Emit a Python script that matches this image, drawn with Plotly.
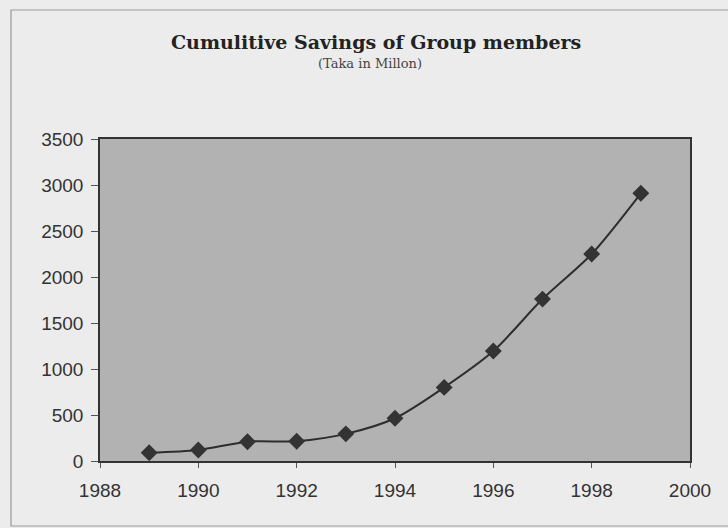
import plotly.graph_objects as go

years = [1989, 1990, 1991, 1992, 1993, 1994, 1995, 1996, 1997, 1998, 1999]
savings = [90, 120, 210, 215, 295, 465, 800, 1195, 1760, 2250, 2910]

title_text = "Cumulitive Savings of Group members"
subtitle_text = "(Taka in Millon)"
x_ticks = [1988, 1990, 1992, 1994, 1996, 1998, 2000]
y_ticks = [0, 500, 1000, 1500, 2000, 2500, 3000, 3500]

W, H = 728, 528
L, R, T, B = 100, 38, 139, 67
pw, ph = W - L - R, H - T - B

def px(x):
    return (x - L) / pw

def py(y):
    return (H - B - y) / ph

fig = go.Figure()
fig.add_trace(go.Scatter(
    x=years, y=savings, mode="lines+markers",
    line=dict(color="#2e2e2e", width=2, shape="spline", smoothing=0.8),
    marker=dict(symbol="diamond", size=13, color="#333333"),
    showlegend=False,
))

fig.update_layout(
    width=W, height=H,
    margin=dict(l=L, r=R, t=T, b=B),
    paper_bgcolor="#ececec",
    plot_bgcolor="#b2b2b2",
    xaxis=dict(
        range=[1988, 2000], tickvals=x_ticks, ticktext=[str(v) for v in x_ticks],
        showgrid=False, zeroline=False, showline=True, mirror=True,
        linecolor="#333333", linewidth=1.5,
        ticks="outside", ticklen=5, tickcolor="#555555",
        tickfont=dict(family="Liberation Sans, Arial", size=19, color="#333333"),
        ticklabelstandoff=6,
    ),
    yaxis=dict(
        range=[0, 3500], tickvals=y_ticks,
        showgrid=False, zeroline=False, showline=True, mirror=True,
        linecolor="#333333", linewidth=1.5,
        ticks="outside", ticklen=7, tickcolor="#555555",
        tickfont=dict(family="Liberation Sans, Arial", size=19, color="#333333"),
        ticklabelstandoff=4,
    ),
    annotations=[
        dict(text="<b>" + title_text + "</b>", xref="paper", yref="paper", x=px(376), y=py(42),
             xanchor="center", yanchor="middle", showarrow=False,
             font=dict(family="DejaVu Serif", size=19, color="#222222")),
        dict(text=subtitle_text, xref="paper", yref="paper", x=px(370), y=py(63),
             xanchor="center", yanchor="middle", showarrow=False,
             font=dict(family="DejaVu Serif", size=13, color="#444444")),
    ],
    shapes=[
        dict(type="rect", xref="paper", yref="paper",
             x0=px(11), x1=px(745), y0=py(526), y1=py(10),
             line=dict(color="#999999", width=1.2), fillcolor="rgba(0,0,0,0)", layer="below"),
    ],
)

fig.write_html("out.html")
